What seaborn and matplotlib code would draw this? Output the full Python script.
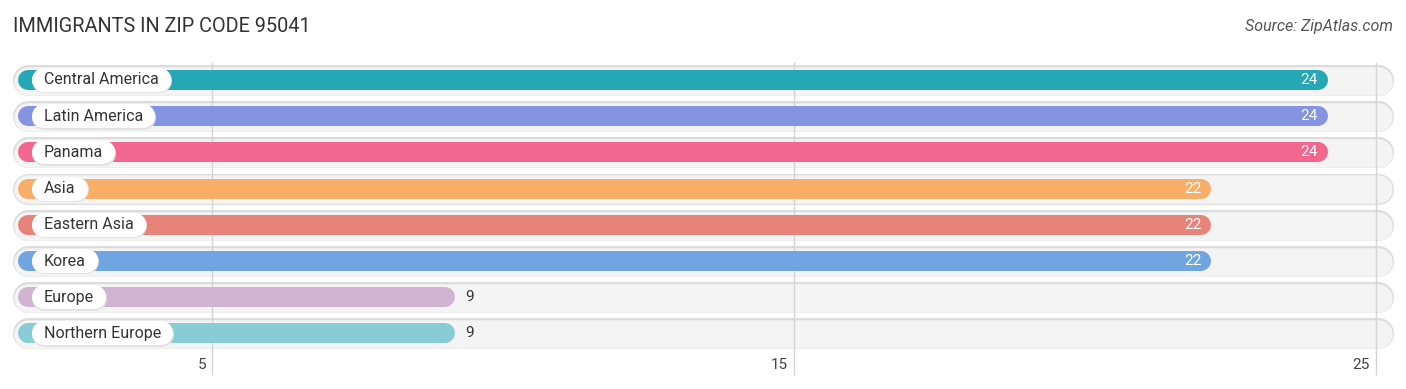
import matplotlib
matplotlib.use('Agg')
import matplotlib.pyplot as plt
import seaborn as sns
import pandas as pd

# data
categories = ['Central America', 'Latin America', 'Panama', 'Asia',
              'Eastern Asia', 'Korea', 'Europe', 'Northern Europe']
values = [24, 24, 24, 22, 22, 22, 9, 9]
colors = ['#26a7b6', '#8494e0', '#f1678f', '#f8ae66',
          '#e8837a', '#6fa5e0', '#d0b4d2', '#88cdd6']
ticks = [5, 15, 25]

sns.set_style('white')
plt.rcParams['font.family'] = ['Roboto', 'DejaVu Sans']

W, H = 1406, 389
PX = 58.2      # pixels per unit on x
ROW = 36.2     # pixels per row
PT = 0.72      # points per pixel at dpi 100

fig = plt.figure(figsize=(W / 100, H / 100), dpi=100)
ax = fig.add_axes([0, 0, 1, 1])

df = pd.DataFrame({'region': categories, 'count': values})
sns.barplot(data=df, x='count', y='region', hue='region', palette=colors,
            saturation=1, legend=False, ax=ax, width=0.5)

x_left = 5 - 212 / PX
ax.set_xlim(x_left, x_left + W / PX)
ax.set_ylim((H - 80) / ROW, -80 / ROW)
ax.axis('off')


def dx(p):
    # pixel position from the left edge -> data x
    return x_left + p / PX


start = dx(28)
track_end = dx(1378)

# gridlines
ax.vlines(ticks, (62 - 80) / ROW, (375 - 80) / ROW, color='#d4d4d4', lw=1, zorder=1.5)

bars = list(ax.patches)
labels = []
for p, cat, v in zip(bars, categories, values):
    y = p.get_y() + p.get_height() / 2
    col = p.get_facecolor()
    p.remove()
    # background track
    ax.plot([start, track_end], [y, y], lw=31 * PT, color='#dcdcdc',
            solid_capstyle='round', zorder=1)
    ax.plot([start, track_end], [y + 0.02, y + 0.02], lw=28.5 * PT, color='#f4f4f4',
            solid_capstyle='round', zorder=1.2)
    # bar
    ax.plot([start, v], [y, y], lw=20 * PT, color=col,
            solid_capstyle='round', zorder=2)
    t = ax.text(dx(44), y, cat, ha='left', va='center', fontsize=11.5,
                color='#333333', zorder=4)
    labels.append((t, y))
    if v >= 15:
        ax.annotate(str(v), (v, y), xytext=(0, 0), textcoords='offset points',
                    ha='right', va='center', fontsize=11, color='white', zorder=4)
    else:
        ax.annotate(str(v), (v, y), xytext=(20 * PT, 0), textcoords='offset points',
                    ha='left', va='center', fontsize=11, color='#333333', zorder=4)

# white pills behind category labels
fig.canvas.draw()
r = fig.canvas.get_renderer()
inv = ax.transData.inverted()
for t, y in labels:
    bb = t.get_window_extent(r)
    x0 = inv.transform((bb.x0, 0))[0]
    x1 = inv.transform((bb.x1, 0))[0]
    ax.plot([x0, x1], [y + 0.01, y + 0.01], lw=25 * PT, color='#e2e2e2',
            solid_capstyle='round', zorder=2.9)
    ax.plot([x0, x1], [y, y], lw=24 * PT, color='white',
            solid_capstyle='round', zorder=3)

# tick labels
ty = (365 - 80) / ROW
for tk in ticks:
    ax.annotate(str(tk), (tk, ty), xytext=(-6 * PT, 0), textcoords='offset points',
                ha='right', va='center', fontsize=11, color='#444444')

fig.text(13 / W, 1 - 27 / H, 'IMMIGRANTS IN ZIP CODE 95041', ha='left', va='center',
         fontsize=14.3, color='#333333')
fig.text(1393 / W, 1 - 27 / H, 'Source: ZipAtlas.com', ha='right', va='center',
         fontsize=11.5, color='#555555', style='italic')

fig.savefig('out.png', dpi=100)
